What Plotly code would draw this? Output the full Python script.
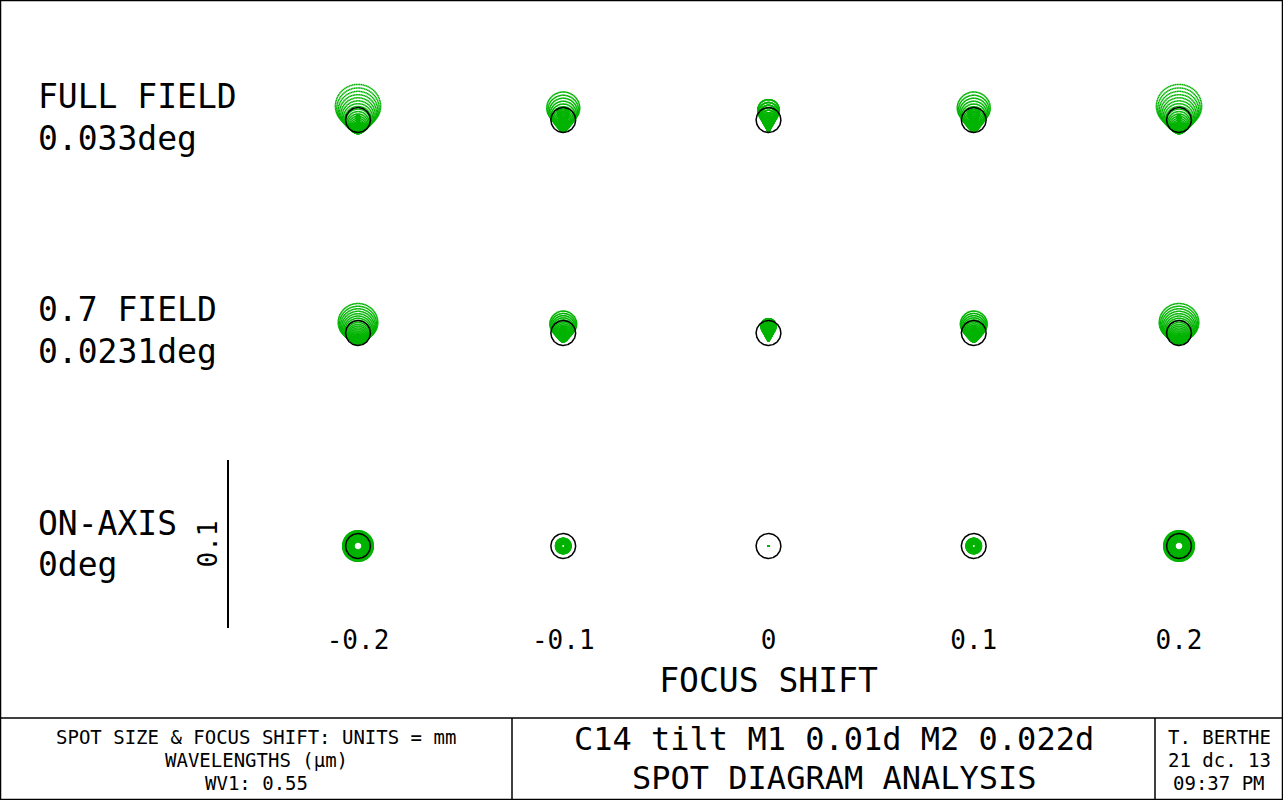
import numpy as np
import plotly.graph_objects as go

# ---------------- data ----------------
focus_shift_mm = [-0.2, -0.1, 0.0, 0.1, 0.2]
focus_tick_text = ["-0.2", "-0.1", "0", "0.1", "0.2"]
field_names = ["FULL FIELD", "0.7 FIELD", "ON-AXIS"]
field_angle_labels = ["0.033deg", "0.0231deg", "0deg"]
field_angle_deg = [0.033, 0.0231, 0.0]
wavelength_um = 0.55
f_number = 11.0                 # estimated from the defocus blur / Airy radius
coma_full_field_um = 6.4        # sagittal coma at full field (estimated)
obscuration_ratio = 0.25        # central obstruction (estimated)
pupil_rings = 22                # hexapolar sampling rings
scale_bar_mm = 0.1
info_left = ["SPOT SIZE &amp; FOCUS SHIFT: UNITS = mm", "WAVELENGTHS (µm)", "WV1: 0.55"]
title_lines = ["C14 tilt M1 0.01d M2 0.022d", "SPOT DIAGRAM ANALYSIS"]
info_right = ["T. BERTHE", "21 dc. 13", "09:37 PM"]

# ---------------- layout geometry (pixels) ----------------
W, H = 1283, 800
FONT = "DejaVu Sans Mono"
GREEN = "#00b400"
px_per_um = 1.68                 # 0.1 mm scale bar = 168 px
focus_px0 = 358.0                # pixel of first focus column
focus_px_per_mm = 2052.5
row_px = [120.0, 333.0, 546.0]
half_cell = 100.0


def px_x(p):
    return p / W


def px_y(p):
    return 1 - p / H


def spot_rays(defocus_um, coma_um, eps, nrings):
    xs, ys = [], []
    for n in range(0, nrings + 1):
        rho = n / nrings
        if rho < eps:
            continue
        m = max(1, 6 * n)
        th = 2 * np.pi * np.arange(m) / m
        x = defocus_um * rho * np.sin(th) + coma_um * rho ** 2 * np.sin(2 * th)
        y = defocus_um * rho * np.cos(th) + coma_um * rho ** 2 * (2 + np.cos(2 * th))
        xs.append(x)
        ys.append(y)
    x = np.concatenate(xs)
    y = np.concatenate(ys)
    return x - x.mean(), y - y.mean()


fig = go.Figure()
layout_axes = {}
airy_r_um = 1.22 * wavelength_um * f_number
theta = np.linspace(0, 2 * np.pi, 161)

k = 0
for r, fa in enumerate(field_angle_deg):
    coma = coma_full_field_um * fa / field_angle_deg[0]
    for c, fz in enumerate(focus_shift_mm):
        k += 1
        cx = focus_px0 + (fz - focus_shift_mm[0]) * focus_px_per_mm
        cy = row_px[r]
        defocus = fz * 1000.0 / (2 * f_number)
        x, y = spot_rays(defocus, coma, obscuration_ratio, pupil_rings)
        xa, ya = f"x{k}", f"y{k}"
        fig.add_trace(go.Scatter(x=x, y=y, mode="markers", xaxis=xa, yaxis=ya,
                                 marker=dict(size=1.5, color=GREEN, symbol="square", line=dict(width=0)),
                                 hoverinfo="skip", showlegend=False))
        fig.add_trace(go.Scatter(x=airy_r_um * np.cos(theta), y=airy_r_um * np.sin(theta),
                                 mode="lines", xaxis=xa, yaxis=ya,
                                 line=dict(color="black", width=1.5),
                                 hoverinfo="skip", showlegend=False))
        rng = half_cell / px_per_um
        layout_axes[f"xaxis{k}"] = dict(domain=[px_x(cx - half_cell), px_x(cx + half_cell)],
                                        range=[-rng, rng], anchor=ya, visible=False, fixedrange=True)
        layout_axes[f"yaxis{k}"] = dict(domain=[px_y(cy + half_cell), px_y(cy - half_cell)],
                                        range=[-rng, rng], anchor=xa, visible=False, fixedrange=True)

# focus-shift axis (domain centred on the middle column so the title is centred there)
k += 1
fx, fy = f"x{k}", f"y{k}"
fig.add_trace(go.Scatter(x=focus_shift_mm, y=[0] * len(focus_shift_mm), mode="markers",
                         marker=dict(opacity=0), xaxis=fx, yaxis=fy,
                         hoverinfo="skip", showlegend=False))
mid_px = focus_px0 + (0 - focus_shift_mm[0]) * focus_px_per_mm
left_px = 2 * mid_px - W
lo = focus_shift_mm[0] - (focus_px0 - left_px) / focus_px_per_mm
hi = focus_shift_mm[0] + (W - focus_px0) / focus_px_per_mm
axis_y_px = 622
layout_axes[f"xaxis{k}"] = dict(domain=[px_x(left_px), 1], range=[lo, hi], anchor=fy,
                                tickvals=focus_shift_mm, ticktext=focus_tick_text,
                                showline=False, showgrid=False, zeroline=False, ticks="",
                                tickfont=dict(family=FONT, size=26, color="black"),
                                title=dict(text="FOCUS SHIFT", font=dict(family=FONT, size=33, color="black"),
                                           standoff=14),
                                automargin=False, fixedrange=True)
layout_axes[f"yaxis{k}"] = dict(domain=[px_y(axis_y_px), px_y(axis_y_px) + 0.001], range=[-1, 1],
                                anchor=fx, visible=False, fixedrange=True)

# scale bar axis
k += 1
sx, sy = f"x{k}", f"y{k}"
bar_len_px = scale_bar_mm * 1000 * px_per_um
bar_cy = 544
fig.add_trace(go.Scatter(x=[0], y=[0], mode="markers", marker=dict(opacity=0), xaxis=sx, yaxis=sy,
                         hoverinfo="skip", showlegend=False))
layout_axes[f"xaxis{k}"] = dict(domain=[px_x(229), px_x(300)], range=[0, 1], anchor=sy,
                                visible=False, fixedrange=True)
layout_axes[f"yaxis{k}"] = dict(domain=[px_y(bar_cy + bar_len_px / 2), px_y(bar_cy - bar_len_px / 2)],
                                range=[0, scale_bar_mm], anchor=sx, showline=True, linecolor="black",
                                linewidth=1.5, ticks="", showticklabels=False, showgrid=False,
                                zeroline=False,
                                title=dict(text="0.1", font=dict(family=FONT, size=26, color="black"),
                                           standoff=2),
                                automargin=False, fixedrange=True)

annotations = []
label_y = [(97, 138), (310, 351), (523, 564)]
for (y1, y2), nm, ang in zip(label_y, field_names, field_angle_labels):
    for yy, t in ((y1, nm), (y2, ang)):
        annotations.append(dict(x=px_x(36), y=px_y(yy), xref="paper", yref="paper", text=t,
                                xanchor="left", yanchor="middle", showarrow=False,
                                font=dict(family=FONT, size=33, color="black")))

for yy, t in zip((737, 760, 783), info_left):
    annotations.append(dict(x=px_x(256), y=px_y(yy), xref="paper", yref="paper", text=t,
                            xanchor="center", yanchor="middle", showarrow=False,
                            font=dict(family=FONT, size=19, color="black")))
for yy, t in zip((739, 778), title_lines):
    annotations.append(dict(x=px_x(834), y=px_y(yy), xref="paper", yref="paper", text=t,
                            xanchor="center", yanchor="middle", showarrow=False,
                            font=dict(family=FONT, size=32, color="black")))
for yy, t in zip((737, 760, 783), info_right):
    annotations.append(dict(x=px_x(1219), y=px_y(yy), xref="paper", yref="paper", text=t,
                            xanchor="center", yanchor="middle", showarrow=False,
                            font=dict(family=FONT, size=19, color="black")))

shapes = [
    dict(type="rect", xref="paper", yref="paper", x0=px_x(0.5), x1=px_x(W - 0.5),
         y0=px_y(H - 0.5), y1=px_y(0.5), line=dict(color="black", width=1.5)),
    dict(type="line", xref="paper", yref="paper", x0=0, x1=1, y0=px_y(718), y1=px_y(718),
         line=dict(color="black", width=1.5)),
    dict(type="line", xref="paper", yref="paper", x0=px_x(512), x1=px_x(512), y0=0, y1=px_y(718),
         line=dict(color="black", width=1.5)),
    dict(type="line", xref="paper", yref="paper", x0=px_x(1155), x1=px_x(1155), y0=0, y1=px_y(718),
         line=dict(color="black", width=1.5)),
]

fig.update_layout(width=W, height=H, margin=dict(l=0, r=0, t=0, b=0),
                  paper_bgcolor="white", plot_bgcolor="white", showlegend=False,
                  annotations=annotations, shapes=shapes, **layout_axes)

fig.write_html("out.html", config={"displayModeBar": False},
               post_script="document.body.style.margin='0px';")
